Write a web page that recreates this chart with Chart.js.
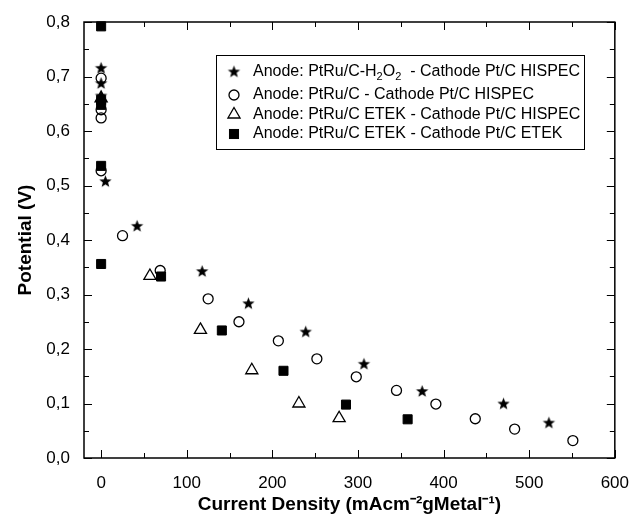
<!DOCTYPE html>
<html>
<head>
<meta charset="utf-8">
<script src="https://cdn.jsdelivr.net/npm/chart.js@4.4.0/dist/chart.umd.min.js"></script>
<style>
    html, body { margin: 0; padding: 0; background: #fff; }
    #wrap { width: 636px; height: 519px; position: relative; }
</style>
</head>
<body>
<div id="wrap"><canvas id="polar"></canvas></div>
<script>
// legend texts
var seriesLabels = [
    "Anode: PtRu/C-H₂O₂  - Cathode Pt/C HISPEC",
    "Anode: PtRu/C - Cathode Pt/C HISPEC",
    "Anode: PtRu/C ETEK - Cathode Pt/C HISPEC",
    "Anode: PtRu/C ETEK - Cathode Pt/C ETEK"
];

// current density (mA cm-2 gMetal-1) / potential (V)
var starX = [0, 0, 0, 5, 42, 118, 172, 239, 307, 375, 470, 523];
var starY = [0.715, 0.687, 0.664, 0.507, 0.425, 0.342, 0.283, 0.231, 0.172, 0.122, 0.099, 0.064];

var circleX = [0, 0, 0, 0, 25, 69, 125, 161, 207, 252, 298, 345, 391, 437, 483, 551];
var circleY = [0.697, 0.639, 0.624, 0.527, 0.408, 0.344, 0.292, 0.250, 0.215, 0.182, 0.149, 0.124, 0.099, 0.072, 0.053, 0.032];

var triX = [0, 57, 116, 176, 231, 278];
var triY = [0.660, 0.334, 0.235, 0.161, 0.100, 0.073];

var squareX = [0, 0, 0, 0, 0, 70, 141, 213, 286, 358];
var squareY = [0.792, 0.657, 0.648, 0.536, 0.356, 0.333, 0.234, 0.160, 0.098, 0.071];

// axis ticks
var xTickValues = [0, 100, 200, 300, 400, 500, 600];
var yTickValues = [0, 0.1, 0.2, 0.3, 0.4, 0.5, 0.6, 0.7, 0.8];

var FONT = '"Liberation Sans", Arial, sans-serif';

function toPoints(xs, ys) {
    return xs.map(function (x, i) { return { x: x, y: ys[i] }; });
}

// filled 5 point star, used as point image
function makeStar(r) {
    var size = Math.ceil(r * 2) + 2;
    var c = document.createElement('canvas');
    c.width = size; c.height = size;
    var g = c.getContext('2d');
    g.fillStyle = '#000';
    g.beginPath();
    for (var i = 0; i < 10; i++) {
        var rr = i % 2 === 0 ? r : r * 0.42;
        var a = -Math.PI / 2 + i * Math.PI / 5;
        var px = size / 2 + rr * Math.cos(a), py = size / 2 + rr * Math.sin(a);
        if (i === 0) g.moveTo(px, py); else g.lineTo(px, py);
    }
    g.closePath();
    g.fill();
    return c;
}
var starImg = makeStar(6.5);

// draw one legend symbol like the chart points
function drawSymbol(ctx, ds, x, y) {
    var r = ds.pointRadius;
    ctx.save();
    ctx.lineWidth = ds.pointBorderWidth;
    ctx.strokeStyle = '#000';
    ctx.fillStyle = ds.pointBackgroundColor;
    if (ds.pointStyle === starImg) {
        ctx.drawImage(starImg, x - starImg.width / 2, y - starImg.height / 2);
    } else if (ds.pointStyle === 'circle') {
        ctx.beginPath();
        ctx.arc(x, y, r, 0, Math.PI * 2);
        ctx.fill(); ctx.stroke();
    } else if (ds.pointStyle === 'triangle') {
        ctx.beginPath();
        ctx.moveTo(x, y - r);
        ctx.lineTo(x + r * Math.sin(2 * Math.PI / 3), y - r * Math.cos(2 * Math.PI / 3));
        ctx.lineTo(x + r * Math.sin(4 * Math.PI / 3), y - r * Math.cos(4 * Math.PI / 3));
        ctx.closePath();
        ctx.fill(); ctx.stroke();
    } else {
        var s = r * Math.SQRT1_2;
        ctx.fillRect(x - s, y - s, 2 * s, 2 * s);
        ctx.strokeRect(x - s, y - s, 2 * s, 2 * s);
    }
    ctx.restore();
}

// text with real subscripts for the ₂ characters
function drawRich(ctx, text, x, y) {
    var parts = text.split('₂');
    ctx.textBaseline = 'middle';
    ctx.textAlign = 'left';
    ctx.fillStyle = '#000';
    parts.forEach(function (p, i) {
        ctx.font = '16px ' + FONT;
        ctx.fillText(p, x, y);
        x += ctx.measureText(p).width;
        if (i < parts.length - 1) {
            ctx.font = '11px ' + FONT;
            ctx.fillText('2', x, y + 5);
            x += ctx.measureText('2').width;
        }
    });
}

// box round the plot + inward ticks on all four sides
var frameTicks = {
    id: 'frameTicks',
    afterDatasetsDraw: function (chart) {
        var ctx = chart.ctx, a = chart.chartArea;
        var xs = chart.scales.x, ys = chart.scales.y;
        ctx.save();
        ctx.strokeStyle = '#000';
        ctx.lineWidth = 1;
        ctx.beginPath();
        for (var v = xTickValues[0]; v <= xTickValues[xTickValues.length - 1]; v += 50) {
            var px = Math.round(xs.getPixelForValue(v)) + 0.5;
            var len = v % 100 === 0 ? 8 : 5;
            ctx.moveTo(px, a.bottom); ctx.lineTo(px, a.bottom - len);
            ctx.moveTo(px, a.top); ctx.lineTo(px, a.top + len);
        }
        for (var k = 0; k <= 16; k++) {
            var py = Math.round(ys.getPixelForValue(k * 0.05)) + 0.5;
            var l2 = k % 2 === 0 ? 8 : 5;
            ctx.moveTo(a.left, py); ctx.lineTo(a.left + l2, py);
            ctx.moveTo(a.right, py); ctx.lineTo(a.right - l2, py);
        }
        ctx.stroke();
        ctx.lineWidth = 1.5;
        ctx.strokeRect(a.left, a.top, a.right - a.left, a.bottom - a.top);
        ctx.restore();
    }
};

var boxLegend = {
    id: 'boxLegend',
    afterDraw: function (chart) {
        var ctx = chart.ctx;
        var bx = 216, by = 55, bw = 368, bh = 94;
        var rows = [72, 95, 114.5, 134];
        ctx.save();
        ctx.fillStyle = '#fff';
        ctx.fillRect(bx, by, bw, bh);
        ctx.strokeStyle = '#000';
        ctx.lineWidth = 1;
        ctx.strokeRect(bx + 0.5, by + 0.5, bw, bh);
        chart.data.datasets.forEach(function (ds, i) {
            drawSymbol(ctx, ds, 234, rows[i]);
            drawRich(ctx, ds.label, 253, rows[i]);
        });
        ctx.restore();
    }
};

var ctx = document.getElementById('polar');
var chart = new Chart(ctx, {
    type: 'scatter',
    data: {
        datasets: [{
            label: seriesLabels[0],
            data: toPoints(starX, starY),
            pointStyle: starImg,
            pointRadius: 6.5,
            pointBorderWidth: 1,
            pointBackgroundColor: '#000',
            pointBorderColor: '#000'
        }, {
            label: seriesLabels[1],
            data: toPoints(circleX, circleY),
            pointStyle: 'circle',
            pointRadius: 5,
            pointBorderWidth: 1.3,
            pointBackgroundColor: 'rgba(255,255,255,0)',
            pointBorderColor: '#000'
        }, {
            label: seriesLabels[2],
            data: toPoints(triX, triY),
            pointStyle: 'triangle',
            pointRadius: 7,
            pointBorderWidth: 1.3,
            pointBackgroundColor: 'rgba(255,255,255,0)',
            pointBorderColor: '#000'
        }, {
            label: seriesLabels[3],
            data: toPoints(squareX, squareY),
            pointStyle: 'rect',
            pointRadius: 6.4,
            pointBorderWidth: 1,
            pointBackgroundColor: '#000',
            pointBorderColor: '#000'
        }]
    },
    options: {
        responsive: true,
        maintainAspectRatio: false,
        animation: false,
        events: [],
        clip: false,
        layout: { padding: { top: 22, right: 16, left: 0, bottom: 0 } },
        plugins: {
            legend: { display: false },
            tooltip: { enabled: false }
        },
        scales: {
            x: {
                type: 'linear',
                min: -20,
                max: 600,
                grid: { display: false },
                border: { display: false },
                afterBuildTicks: function (s) {
                    s.ticks = xTickValues.map(function (v) { return { value: v }; });
                },
                afterFit: function (s) { s.height = 61; },
                ticks: {
                    color: '#000',
                    padding: 7,
                    maxRotation: 0,
                    font: { family: FONT, size: 17 }
                },
                title: {
                    display: true,
                    text: 'Current Density (mAcm⁻²gMetal⁻¹)',
                    color: '#000',
                    padding: { top: 0, bottom: 3 },
                    font: { family: FONT, size: 19, weight: 'bold' }
                }
            },
            y: {
                type: 'linear',
                min: 0,
                max: 0.8,
                grid: { display: false },
                border: { display: false },
                afterBuildTicks: function (s) {
                    s.ticks = yTickValues.map(function (v) { return { value: v }; });
                },
                afterFit: function (s) { s.width = 84; },
                ticks: {
                    color: '#000',
                    padding: 6,
                    font: { family: FONT, size: 17 },
                    callback: function (value) {
                        return value.toFixed(1).replace('.', ',');
                    }
                },
                title: {
                    display: true,
                    text: 'Potential (V)',
                    color: '#000',
                    padding: { top: 14, bottom: 0 },
                    font: { family: FONT, size: 19, weight: 'bold' }
                }
            }
        }
    },
    plugins: [frameTicks, boxLegend]
});
</script>
</body>
</html>
